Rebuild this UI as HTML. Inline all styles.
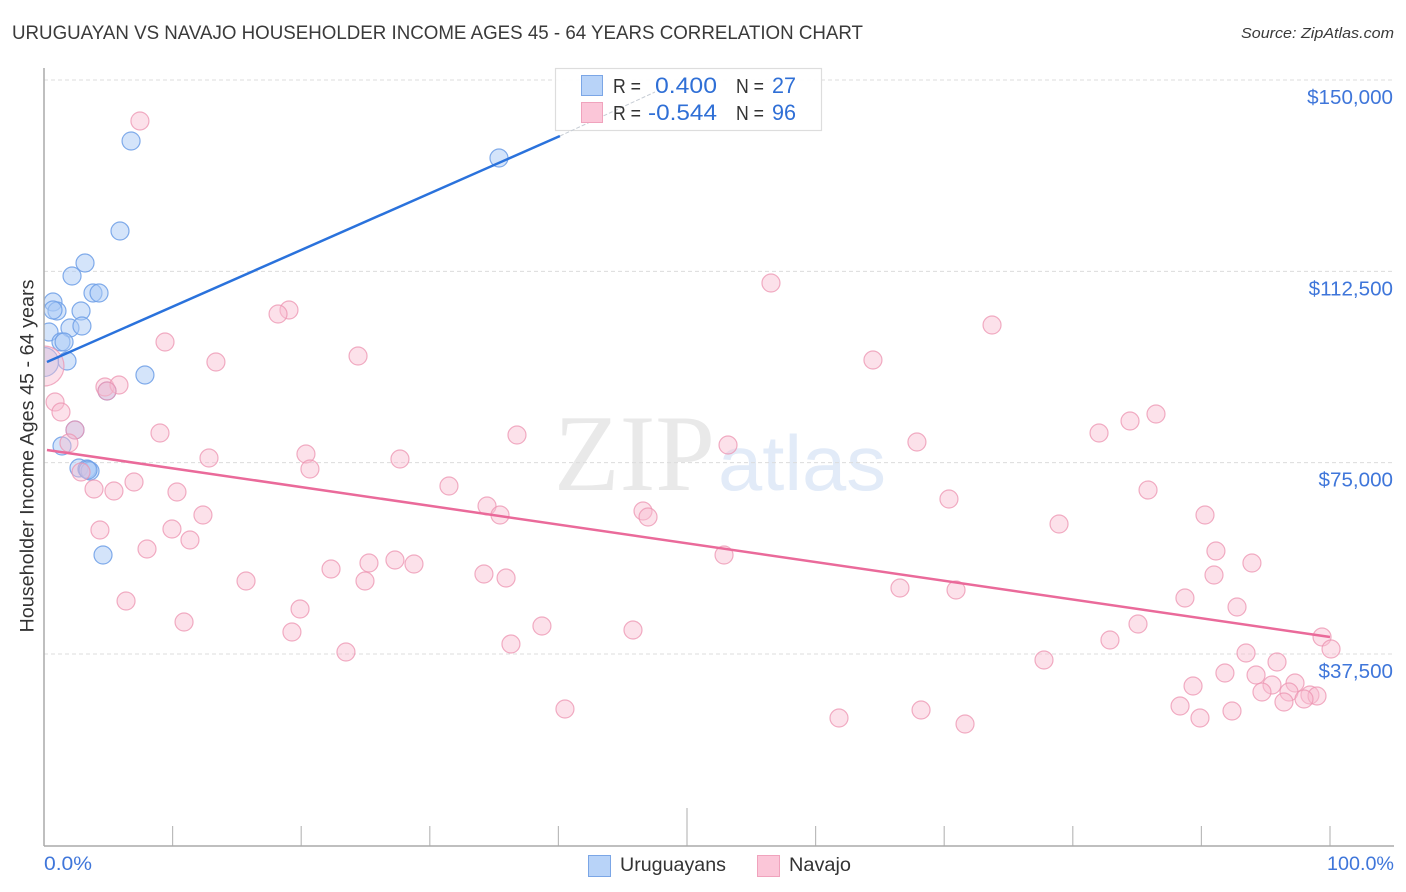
<!DOCTYPE html>
<html lang="en">
<head>
<meta charset="utf-8">
<title>Uruguayan vs Navajo Householder Income Correlation Chart</title>
<style>
html,body{margin:0;padding:0;background:#fff;}
body{width:1406px;height:892px;overflow:hidden;}
svg{display:block;font-family:"Liberation Sans",sans-serif;}
</style>
</head>
<body>
<svg id="chart" xmlns="http://www.w3.org/2000/svg" width="1406" height="892" viewBox="0 0 1406 892">
  <defs>
    <clipPath id="plot-clip"><rect x="44" y="60" width="1350" height="786"/></clipPath>
  </defs>
  <rect x="0" y="0" width="1406" height="892" fill="#fff"/>
  <text x="12" y="39" font-size="19" fill="#3a3a3a" textLength="851" lengthAdjust="spacingAndGlyphs">URUGUAYAN VS NAVAJO HOUSEHOLDER INCOME AGES 45 - 64 YEARS CORRELATION CHART</text>
  <text x="1394" y="38" font-size="15" font-style="italic" fill="#3a3a3a" text-anchor="end" textLength="153" lengthAdjust="spacingAndGlyphs">Source: ZipAtlas.com</text>

  <g>
    <text x="554" y="490" font-family="'Liberation Serif',serif" font-size="109" fill="#e9e9e9" textLength="161" lengthAdjust="spacingAndGlyphs">ZIP</text>
    <text x="718" y="490" font-size="78" fill="#e2ebf8" textLength="168" lengthAdjust="spacingAndGlyphs">atlas</text>
  </g>

  <g id="grid"></g>
  <g id="xticks"></g>
  <g id="trend-back"></g>
  <g id="dots" clip-path="url(#plot-clip)"></g>
  <g id="trend-front"></g>

  <line x1="44" y1="68" x2="44" y2="846" stroke="#aaa" stroke-width="1.5"/>
  <line x1="44" y1="846" x2="1394" y2="846" stroke="#aaa" stroke-width="1.5"/>

  <g id="ylabels"></g>
  <text transform="translate(33.5,456) rotate(-90)" font-size="19.5" fill="#333" text-anchor="middle" textLength="353" lengthAdjust="spacingAndGlyphs">Householder Income Ages 45 - 64 years</text>
  <text x="44" y="870" font-size="19" fill="#3f76da" textLength="48" lengthAdjust="spacingAndGlyphs">0.0%</text>
  <text x="1394" y="870" font-size="19" fill="#3f76da" text-anchor="end" textLength="67" lengthAdjust="spacingAndGlyphs">100.0%</text>

  <g>
    <rect x="555.5" y="68.5" width="266" height="62" fill="#fff" fill-opacity="0.9" stroke="#ddd" stroke-width="1.2"/>
    <line id="trend-dash" stroke="#c6ccd4" stroke-width="1" stroke-dasharray="4 2"/>
    <rect x="581.5" y="75.5" width="21" height="20" fill="#b8d3f8" stroke="#7ba6e6" stroke-width="1"/>
    <rect x="581.5" y="102.5" width="21" height="20" fill="#fbc6d8" stroke="#f0a3bd" stroke-width="1"/>
    <text x="613" y="93" font-size="20" fill="#333" textLength="28" lengthAdjust="spacingAndGlyphs">R =</text>
    <text x="717" y="93" font-size="22.5" fill="#2f6fd6" text-anchor="end" textLength="62" lengthAdjust="spacingAndGlyphs">0.400</text>
    <text x="736" y="93" font-size="20" fill="#333" textLength="28" lengthAdjust="spacingAndGlyphs">N =</text>
    <text x="772" y="93" font-size="22.5" fill="#2f6fd6" textLength="24" lengthAdjust="spacingAndGlyphs">27</text>
    <text x="613" y="120" font-size="20" fill="#333" textLength="28" lengthAdjust="spacingAndGlyphs">R =</text>
    <text x="717" y="120" font-size="22.5" fill="#2f6fd6" text-anchor="end" textLength="69" lengthAdjust="spacingAndGlyphs">-0.544</text>
    <text x="736" y="120" font-size="20" fill="#333" textLength="28" lengthAdjust="spacingAndGlyphs">N =</text>
    <text x="772" y="120" font-size="22.5" fill="#2f6fd6" textLength="24" lengthAdjust="spacingAndGlyphs">96</text>
  </g>

  <g>
    <rect x="588.5" y="855.5" width="22" height="21" fill="#b8d3f8" stroke="#7ba6e6" stroke-width="1"/>
    <text x="620" y="871" font-size="19.5" fill="#333" textLength="106" lengthAdjust="spacingAndGlyphs">Uruguayans</text>
    <rect x="757.5" y="855.5" width="22" height="21" fill="#fbc6d8" stroke="#f0a3bd" stroke-width="1"/>
    <text x="789" y="871" font-size="19.5" fill="#333" textLength="62" lengthAdjust="spacingAndGlyphs">Navajo</text>
  </g>
</svg>

<script>
const yTickValues = [150000, 112500, 75000, 37500];
const yTickLabels = ["$150,000", "$112,500", "$75,000", "$37,500"];
const xTickValues = [0, 10, 20, 30, 40, 50, 60, 70, 80, 90, 100];

const uruguayansX = [6.77, 35.38, 5.91, 3.19, 2.18, 3.81, 4.28, 0.70, 1.01, 0.70, 2.88, 2.02, 2.95, 0.39, 1.32, 1.56, 1.79, 7.85, 4.90, 0, 2.41, 1.40, 2.72, 3.34, 3.58, 3.42, 4.59];
const uruguayansY = [138044, 134712, 120404, 114132, 111584, 108252, 108252, 106488, 104724, 104920, 104724, 101392, 101784, 100608, 98648, 98648, 94924, 92180, 89044, 94728, 81400, 78264, 73952, 73756, 73364, 73560, 56900];
const uruguayansWeight = [1, 1, 1, 1, 1, 1, 1, 1, 1, 1, 1, 1, 1, 1, 1, 1, 1, 1, 1, 3, 1, 1, 1, 1, 1, 1, 1];

const navajoX = [7.46, 56.53, 19.05, 18.20, 73.72, 9.41, 24.42, 13.37, 64.46, 0, 4.74, 5.83, 4.90, 0.86, 1.32, 2.41, 9.02, 36.78, 53.19, 67.88, 82.04, 84.45, 86.47, 1.94, 12.83, 20.37, 27.68, 20.68, 2.88, 3.89, 5.44, 7.00, 10.34, 31.49, 70.37, 85.85, 34.45, 35.46, 46.58, 46.97, 12.36, 4.35, 9.95, 11.35, 78.93, 90.28, 8.01, 52.88, 91.13, 93.93, 15.71, 22.32, 25.27, 27.29, 28.77, 24.96, 34.21, 35.93, 66.56, 70.92, 90.98, 88.72, 92.77, 6.38, 19.91, 10.89, 19.28, 36.31, 38.72, 45.80, 23.48, 82.89, 85.07, 99.38, 100.08, 77.76, 93.47, 95.88, 40.51, 61.82, 68.20, 71.62, 91.83, 94.25, 89.35, 95.49, 97.28, 94.71, 96.81, 98.44, 98.99, 88.34, 96.42, 97.98, 89.89, 92.38];
const navajoY = [141964, 110212, 104920, 104136, 101980, 98648, 95904, 94728, 95120, 93944, 89828, 90220, 89044, 86888, 84928, 81400, 80812, 80420, 78460, 79048, 80812, 83164, 84536, 78852, 75912, 76696, 75716, 73756, 73168, 69836, 69444, 71208, 69248, 70424, 67876, 69640, 66504, 64740, 65524, 64348, 64740, 61800, 61996, 59840, 62976, 64740, 58076, 56900, 57684, 55332, 51804, 54156, 55332, 55920, 55136, 51804, 53176, 52392, 50432, 50040, 52980, 48472, 46708, 47884, 46316, 43768, 41808, 39456, 42984, 42200, 37888, 40240, 43376, 40828, 38476, 36320, 37692, 35928, 26716, 24952, 26520, 23776, 33772, 33380, 31224, 31420, 31812, 30048, 30048, 29460, 29264, 27304, 28088, 28676, 24952, 26324];
const navajoWeight = [1, 1, 1, 1, 1, 1, 1, 1, 1, 5, 1, 1, 1, 1, 1, 1, 1, 1, 1, 1, 1, 1, 1, 1, 1, 1, 1, 1, 1, 1, 1, 1, 1, 1, 1, 1, 1, 1, 1, 1, 1, 1, 1, 1, 1, 1, 1, 1, 1, 1, 1, 1, 1, 1, 1, 1, 1, 1, 1, 1, 1, 1, 1, 1, 1, 1, 1, 1, 1, 1, 1, 1, 1, 1, 1, 1, 1, 1, 1, 1, 1, 1, 1, 1, 1, 1, 1, 1, 1, 1, 1, 1, 1, 1, 1, 1];

const uruguayansTrendX = [0.23, 40.12];
const uruguayansTrendY = [94728, 139024];
const uruguayansTrendExtX = [40.12, 47.51];
const uruguayansTrendExtY = [139024, 147648];
const navajoTrendX = [0.23, 100];
const navajoTrendY = [77480, 40828];

const NS = "http://www.w3.org/2000/svg";
function xScale(v) { return 44 + v * 12.86; }
function yScale(v) { return 80 + (150000 - v) * 574 / 112500; }
function radius(w) { return w === 1 ? 9 : 9 + (w - 1) * 2.75; }
function make(tag, parent, attrs) {
  const el = document.createElementNS(NS, tag);
  for (const k in attrs) el.setAttribute(k, attrs[k]);
  parent.appendChild(el);
  return el;
}

const grid = document.getElementById("grid");
const ylabels = document.getElementById("ylabels");
yTickValues.forEach(function (v, i) {
  const line = make("line", grid, { x1: 44, x2: 1394, y1: yScale(v), y2: yScale(v), stroke: "#dcdcdc", "stroke-width": 1, "stroke-dasharray": "4 3" });
  
  
  const t = make("text", ylabels, { x: 1393, y: yScale(v) + 24, "font-size": 20.6, fill: "#3f76da", "text-anchor": "end" });
  t.textContent = yTickLabels[i];
  
  
});

const xticks = document.getElementById("xticks");
xTickValues.forEach(function (v) {
  if (v === 0) return;
  const top = v === 50 ? 808 : 826;
  const tick = make("line", xticks, { x1: xScale(v), x2: xScale(v), y1: top, y2: 846, stroke: "#bbb", "stroke-width": 1.2 });
  
  
});

const dots = document.getElementById("dots");
uruguayansX.forEach(function (v, i) {
  const c = make("circle", dots, { cx: xScale(v), cy: yScale(uruguayansY[i]), r: radius(uruguayansWeight[i]), fill: "#a9c9f5", "fill-opacity": 0.5, stroke: "#6c9de6", "stroke-opacity": 0.85, "stroke-width": 1.2 });
  
  
});
navajoX.forEach(function (v, i) {
  const c = make("circle", dots, { cx: xScale(v), cy: yScale(navajoY[i]), r: radius(navajoWeight[i]), fill: "#f9bdd1", "fill-opacity": 0.45, stroke: "#ec93b0", "stroke-opacity": 0.75, "stroke-width": 1.2 });
  
  
});

const front = document.getElementById("trend-front");
const blueLine = make("line", front, { x1: xScale(uruguayansTrendX[0]), y1: yScale(uruguayansTrendY[0]), x2: xScale(uruguayansTrendX[1]), y2: yScale(uruguayansTrendY[1]), stroke: "#2a72dc", "stroke-width": 2.5 });


const pinkLine = make("line", front, { x1: xScale(navajoTrendX[0]), y1: yScale(navajoTrendY[0]), x2: xScale(navajoTrendX[1]), y2: yScale(navajoTrendY[1]), stroke: "#ea6a9a", "stroke-width": 2.5 });



const dash = document.getElementById("trend-dash");
dash.setAttribute("x1", xScale(uruguayansTrendExtX[0]));
dash.setAttribute("y1", yScale(uruguayansTrendExtY[0]));
dash.setAttribute("x2", xScale(uruguayansTrendExtX[1]));
dash.setAttribute("y2", yScale(uruguayansTrendExtY[1]));
</script>
</body>
</html>
